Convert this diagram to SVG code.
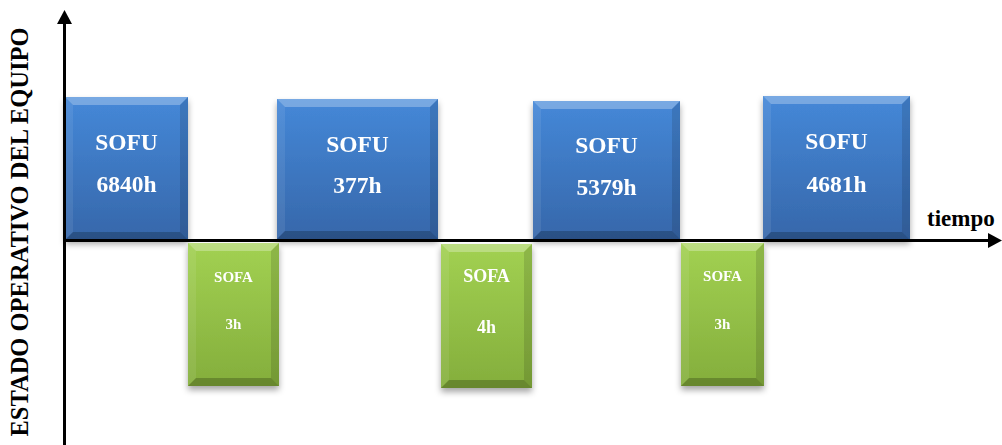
<svg xmlns="http://www.w3.org/2000/svg" width="1002" height="445" viewBox="0 0 1002 445">
  <style>
    .lbl { font-family: "Liberation Serif", "Times New Roman", serif; font-weight: bold; fill: #ffffff; text-anchor: middle; }
    .sofu { font-size: 23.5px; }
    .sofa { font-size: 15px; }
    .sofa-l { font-size: 18px; }
    .axis-t { font-family: "Liberation Serif", "Times New Roman", serif; font-weight: bold; fill: #000000; }
    .bv-t { fill: #ffffff; fill-opacity: 0.28; }
    .bv-l { fill: #ffffff; fill-opacity: 0.08; }
    .bv-r { fill: #000000; fill-opacity: 0.12; }
    .bv-b { fill: #000000; fill-opacity: 0.22; }
    .axis { stroke: #000000; stroke-width: 3; fill: none; }
  </style>
  <defs>
    <linearGradient id="gBlue" x1="0" y1="0" x2="0" y2="1">
      <stop offset="0" stop-color="#4588d8"/>
      <stop offset="1" stop-color="#3667aa"/>
    </linearGradient>
    <linearGradient id="gGreen" x1="0" y1="0" x2="0" y2="1">
      <stop offset="0" stop-color="#a2d152"/>
      <stop offset="1" stop-color="#84ae3c"/>
    </linearGradient>
    <filter id="shadow" x="-10%" y="-10%" width="120%" height="125%">
      <feDropShadow dx="0" dy="4" stdDeviation="3" flood-color="#000000" flood-opacity="0.35"/>
    </filter>
    <marker id="arrow" markerUnits="userSpaceOnUse" markerWidth="16" markerHeight="16" refX="0" refY="7.5" orient="auto">
      <path d="M0,0 L14,7.5 L0,15 z" fill="#000000"/>
    </marker>
  </defs>

  <rect width="1002" height="445" fill="#ffffff"/>

  <!-- operating periods (above the time axis) -->
  <g id="sofu1" filter="url(#shadow)">
    <rect x="65" y="97" width="123" height="143" fill="url(#gBlue)"/>
    <polygon class="bv-t" points="65,97 188,97 180,105 73,105"/>
    <polygon class="bv-l" points="65,97 73,105 73,232 65,240"/>
    <polygon class="bv-r" points="188,97 188,240 180,232 180,105"/>
    <polygon class="bv-b" points="65,240 188,240 180,232 73,232"/>
    <text class="lbl sofu" x="126.5" y="150">SOFU</text>
    <text class="lbl sofu" x="126.5" y="192">6840h</text>
  </g>
  <g id="sofu2" filter="url(#shadow)">
    <rect x="277" y="99" width="161" height="140" fill="url(#gBlue)"/>
    <polygon class="bv-t" points="277,99 438,99 430,107 285,107"/>
    <polygon class="bv-l" points="277,99 285,107 285,231 277,239"/>
    <polygon class="bv-r" points="438,99 438,239 430,231 430,107"/>
    <polygon class="bv-b" points="277,239 438,239 430,231 285,231"/>
    <text class="lbl sofu" x="357.5" y="152">SOFU</text>
    <text class="lbl sofu" x="357.5" y="193">377h</text>
  </g>
  <g id="sofu3" filter="url(#shadow)">
    <rect x="533" y="101" width="147" height="138" fill="url(#gBlue)"/>
    <polygon class="bv-t" points="533,101 680,101 672,109 541,109"/>
    <polygon class="bv-l" points="533,101 541,109 541,231 533,239"/>
    <polygon class="bv-r" points="680,101 680,239 672,231 672,109"/>
    <polygon class="bv-b" points="533,239 680,239 672,231 541,231"/>
    <text class="lbl sofu" x="606.5" y="153">SOFU</text>
    <text class="lbl sofu" x="606.5" y="195">5379h</text>
  </g>
  <g id="sofu4" filter="url(#shadow)">
    <rect x="763" y="96" width="147" height="144" fill="url(#gBlue)"/>
    <polygon class="bv-t" points="763,96 910,96 902,104 771,104"/>
    <polygon class="bv-l" points="763,96 771,104 771,232 763,240"/>
    <polygon class="bv-r" points="910,96 910,240 902,232 902,104"/>
    <polygon class="bv-b" points="763,240 910,240 902,232 771,232"/>
    <text class="lbl sofu" x="836.5" y="149">SOFU</text>
    <text class="lbl sofu" x="836.5" y="192">4681h</text>
  </g>

  <!-- failure periods (below the time axis) -->
  <g id="sofa1" filter="url(#shadow)">
    <rect x="188" y="243" width="91" height="143" fill="url(#gGreen)"/>
    <polygon class="bv-t" points="188,243 279,243 271,251 196,251"/>
    <polygon class="bv-l" points="188,243 196,251 196,378 188,386"/>
    <polygon class="bv-r" points="279,243 279,386 271,378 271,251"/>
    <polygon class="bv-b" points="188,386 279,386 271,378 196,378"/>
    <text class="lbl sofa" x="233.5" y="282">SOFA</text>
    <text class="lbl sofa" x="233.5" y="329">3h</text>
  </g>
  <g id="sofa2" filter="url(#shadow)">
    <rect x="441" y="244" width="91" height="144" fill="url(#gGreen)"/>
    <polygon class="bv-t" points="441,244 532,244 524,252 449,252"/>
    <polygon class="bv-l" points="441,244 449,252 449,380 441,388"/>
    <polygon class="bv-r" points="532,244 532,388 524,380 524,252"/>
    <polygon class="bv-b" points="441,388 532,388 524,380 449,380"/>
    <text class="lbl sofa-l" x="486.5" y="282">SOFA</text>
    <text class="lbl sofa-l" x="486.5" y="333">4h</text>
  </g>
  <g id="sofa3" filter="url(#shadow)">
    <rect x="681" y="243" width="83" height="143" fill="url(#gGreen)"/>
    <polygon class="bv-t" points="681,243 764,243 756,251 689,251"/>
    <polygon class="bv-l" points="681,243 689,251 689,378 681,386"/>
    <polygon class="bv-r" points="764,243 764,386 756,378 756,251"/>
    <polygon class="bv-b" points="681,386 764,386 756,378 689,378"/>
    <text class="lbl sofa" x="722.5" y="281">SOFA</text>
    <text class="lbl sofa" x="722.5" y="329">3h</text>
  </g>

  <!-- axes -->
  <g id="connectors">
    <line class="axis" x1="64.5" y1="445" x2="64.5" y2="24" marker-end="url(#arrow)"/>
    <line class="axis" x1="63" y1="240.5" x2="988" y2="240.5" marker-end="url(#arrow)"/>
  </g>

  <text class="axis-t" x="927" y="226" font-size="23">tiempo</text>
  <text class="axis-t" font-size="24.5" text-anchor="middle" transform="translate(28,232) rotate(-90)">ESTADO OPERATIVO DEL EQUIPO</text>
</svg>
